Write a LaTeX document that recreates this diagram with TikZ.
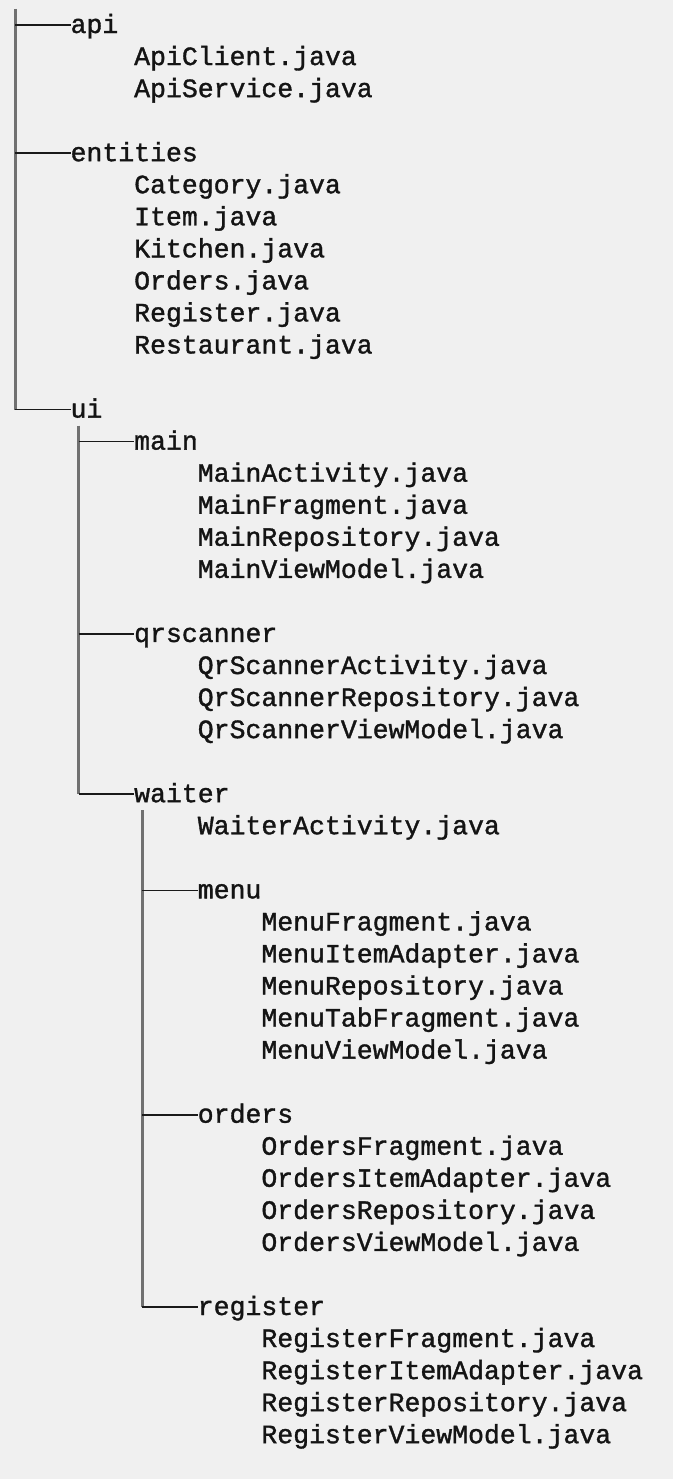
\documentclass[tikz,border=0pt]{standalone}
\usepackage{fontspec}
\newfontfamily\treefont[FakeBold=1.3]{Liberation Mono}
\definecolor{paper}{HTML}{F0F0F0}
\definecolor{ink}{HTML}{141414}
\definecolor{trunk}{HTML}{707070}
\definecolor{branch}{HTML}{1A1A1A}
\tikzset{
  entry/.style={anchor=west, inner sep=0pt, outer sep=0pt, text=ink,
    font=\treefont\fontsize{26.5pt}{32pt}\selectfont,
    text height=19pt, text depth=3pt},
  vline/.style={draw=trunk, line width=3pt},
  hline/.style={draw=branch, line width=1.6pt},
}
\begin{document}
% x in pixels, y in text rows (row 0 = first entry)
\begin{tikzpicture}[x=1pt, y=-32.05pt]
\useasboundingbox[fill=paper] (0,-0.78) rectangle (673,45.367);

% ---- top level -------------------------------------------------
\node[entry] (api) at (70.6,0) {api};
\node[entry] (apiclient) at (134.2,1) {ApiClient.java};
\node[entry] (apiservice) at (134.2,2) {ApiService.java};

\node[entry] (entities) at (70.6,4) {entities};
\node[entry] (category) at (134.2,5) {Category.java};
\node[entry] (item) at (134.2,6) {Item.java};
\node[entry] (kitchen) at (134.2,7) {Kitchen.java};
\node[entry] (orders) at (134.2,8) {Orders.java};
\node[entry] (registerj) at (134.2,9) {Register.java};
\node[entry] (restaurant) at (134.2,10) {Restaurant.java};

\node[entry] (ui) at (70.6,12) {ui};

% ---- ui ----------------------------------------------------------
\node[entry] (main) at (134.2,13) {main};
\node[entry] (mainact) at (197.8,14) {MainActivity.java};
\node[entry] (mainfrag) at (197.8,15) {MainFragment.java};
\node[entry] (mainrepo) at (197.8,16) {MainRepository.java};
\node[entry] (mainvm) at (197.8,17) {MainViewModel.java};

\node[entry] (qrscanner) at (134.2,19) {qrscanner};
\node[entry] (qract) at (197.8,20) {QrScannerActivity.java};
\node[entry] (qrrepo) at (197.8,21) {QrScannerRepository.java};
\node[entry] (qrvm) at (197.8,22) {QrScannerViewModel.java};

\node[entry] (waiter) at (134.2,24) {waiter};
\node[entry] (waiteract) at (197.8,25) {WaiterActivity.java};

% ---- ui/waiter ---------------------------------------------------
\node[entry] (menu) at (197.8,27) {menu};
\node[entry] (menufrag) at (261.4,28) {MenuFragment.java};
\node[entry] (menuadapt) at (261.4,29) {MenuItemAdapter.java};
\node[entry] (menurepo) at (261.4,30) {MenuRepository.java};
\node[entry] (menutab) at (261.4,31) {MenuTabFragment.java};
\node[entry] (menuvm) at (261.4,32) {MenuViewModel.java};

\node[entry] (ordersdir) at (197.8,34) {orders};
\node[entry] (ordfrag) at (261.4,35) {OrdersFragment.java};
\node[entry] (ordadapt) at (261.4,36) {OrdersItemAdapter.java};
\node[entry] (ordrepo) at (261.4,37) {OrdersRepository.java};
\node[entry] (ordvm) at (261.4,38) {OrdersViewModel.java};

\node[entry] (registerdir) at (197.8,40) {register};
\node[entry] (regfrag) at (261.4,41) {RegisterFragment.java};
\node[entry] (regadapt) at (261.4,42) {RegisterItemAdapter.java};
\node[entry] (regrepo) at (261.4,43) {RegisterRepository.java};
\node[entry] (regvm) at (261.4,44) {RegisterViewModel.java};

% ---- tree rules --------------------------------------------------
\coordinate (t0) at (15,-0.5);
\coordinate (t1) at (78.6,12.5);
\coordinate (t2) at (142.2,24.5);

\draw[vline] (t0) -- (t0 |- ui.west);
\draw[vline] (t1) -- (t1 |- waiter.west);
\draw[vline] (t2) -- (t2 |- registerdir.west);

\foreach \d in {api, entities, ui}
  \draw[hline] (t0 |- \d.west) -- (\d.west);
\foreach \d in {main, qrscanner, waiter}
  \draw[hline] (t1 |- \d.west) -- (\d.west);
\foreach \d in {menu, ordersdir, registerdir}
  \draw[hline] (t2 |- \d.west) -- (\d.west);
\end{tikzpicture}
\end{document}
